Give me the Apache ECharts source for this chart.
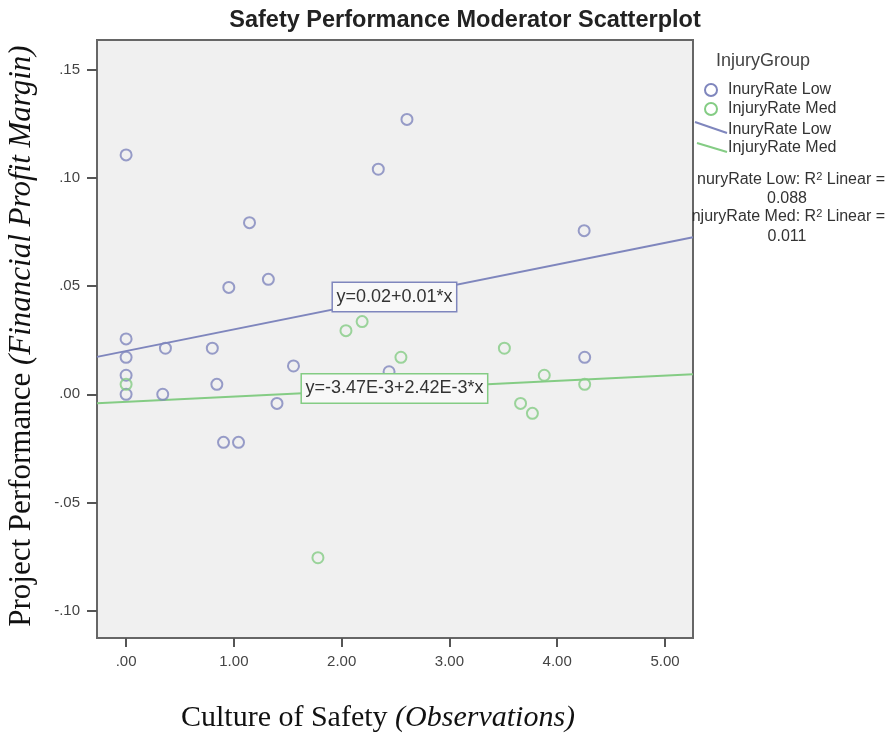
<!DOCTYPE html>
<html>
<head>
<meta charset="utf-8">
<script src="https://cdn.jsdelivr.net/npm/echarts@6/dist/echarts.min.js"></script>
<style>
html,body{margin:0;padding:0;background:#fff;}
#chart{width:890px;height:734px;}
</style>
</head>
<body>
<div id="chart"></div>
<script>
// ---- data ----
const xTicks = [0, 1, 2, 3, 4, 5];
const xTickLabels = ['.00', '1.00', '2.00', '3.00', '4.00', '5.00'];
const yTicks = [-0.10, -0.05, 0.00, 0.05, 0.10, 0.15];
const yTickLabels = ['-.10', '-.05', '.00', '.05', '.10', '.15'];

const lowX = [0, 2.34, 1.145, 0.953, 1.32, 0, 2.606, 4.25, 0.365, 0.80, 0, 1.553, 0, 0.842, 0, 0.34, 1.40, 0.904, 1.043, 4.255, 2.44];
const lowY = [0.1106, 0.104, 0.0793, 0.0494, 0.0531, 0.0256, 0.127, 0.0756, 0.0213, 0.0213, 0.0171, 0.0131, 0.0088, 0.0046, 0.0, 0.0, -0.0042, -0.0222, -0.0222, 0.0171, 0.0104];

const medX = [2.04, 2.19, 0, 1.78, 2.55, 3.51, 3.88, 4.255, 3.66, 3.77];
const medY = [0.0294, 0.0336, 0.0046, -0.0755, 0.0171, 0.0213, 0.0088, 0.0046, -0.0042, -0.0088];

// fit line coefficients shown in the chart
const lowFit = [0.02, 0.01];
const medFit = [-0.00347, 0.00242];
const lowEq = 'y=0.02+0.01*x';
const medEq = 'y=-3.47E-3+2.42E-3*x';
const lowEqPos = [2.49, 0.045];
const medEqPos = [2.49, 0.0027];

const seriesNames = ['InuryRate Low', 'InjuryRate Med'];
const r2Values = ['0.088', '0.011'];

// axis range
const xMin = -0.27, xMax = 5.26;
const yMin = -0.1126, yMax = 0.1637;

const blue = '#7f86bd';
const green = '#84cc84';

const zip = (xs, ys) => xs.map((x, i) => [x, ys[i]]);
const fitLine = (c) => [[xMin, c[0] + c[1] * xMin], [xMax, c[0] + c[1] * xMax]];

const chart = echarts.init(document.getElementById('chart'));

const eqMark = (text, pos, color, w) => ({
  silent: true,
  z: 10,
  data: [{
    coord: pos,
    symbol: 'circle',
    symbolSize: 1,
    itemStyle: { color: 'rgba(0,0,0,0)' },
    label: {
      show: true, position: 'inside', formatter: text,
      color: '#333', fontFamily: 'Liberation Sans', fontSize: 18,
      width: w - 12, height: 20, lineHeight: 20, align: 'center', verticalAlign: 'middle',
      padding: [4, 6],
      backgroundColor: '#f8f8f8', borderColor: color, borderWidth: 1.5
    }
  }]
});

const option = {
  backgroundColor: '#ffffff',
  animation: false,
  grid: {
    left: 97, right: 197, top: 40, bottom: 96,
    show: true, backgroundColor: '#f0f0f0', borderColor: '#666', borderWidth: 2
  },
  xAxis: {
    type: 'value', min: xMin, max: xMax,
    splitLine: { show: false },
    axisLine: { show: true, onZero: false, lineStyle: { color: '#666', width: 2 } },
    axisTick: { show: true, inside: false, customValues: xTicks, length: 9, lineStyle: { color: '#555', width: 2 } },
    axisLabel: {
      customValues: xTicks, margin: 16,
      formatter: (v) => xTickLabels[xTicks.indexOf(Math.round(v))],
      color: '#444', fontFamily: 'Liberation Sans', fontSize: 15
    }
  },
  yAxis: {
    type: 'value', min: yMin, max: yMax,
    splitLine: { show: false },
    axisLine: { show: true, onZero: false, lineStyle: { color: '#666', width: 2 } },
    axisTick: { show: true, inside: false, customValues: yTicks, length: 10, lineStyle: { color: '#555', width: 2 } },
    axisLabel: {
      customValues: yTicks, margin: 17,
      formatter: (v) => {
        let best = 0;
        yTicks.forEach((t, i) => { if (Math.abs(t - v) < Math.abs(yTicks[best] - v)) best = i; });
        return yTickLabels[best];
      },
      color: '#444', fontFamily: 'Liberation Sans', fontSize: 15
    }
  },
  series: [
    {
      name: seriesNames[0] + ' fit', type: 'line', data: fitLine(lowFit),
      showSymbol: false, symbol: 'none', lineStyle: { color: blue, width: 2 }, z: 3,
      markPoint: eqMark(lowEq, lowEqPos, blue, 123)
    },
    {
      name: seriesNames[1] + ' fit', type: 'line', data: fitLine(medFit),
      showSymbol: false, symbol: 'none', lineStyle: { color: green, width: 2 }, z: 3,
      markPoint: eqMark(medEq, medEqPos, green, 185)
    },
    {
      name: seriesNames[0], type: 'scatter', data: zip(lowX, lowY),
      symbol: 'circle', symbolSize: 11, z: 4,
      itemStyle: { color: 'rgba(0,0,0,0)', borderColor: blue, borderWidth: 2 }
    },
    {
      name: seriesNames[1], type: 'scatter', data: zip(medX, medY),
      symbol: 'circle', symbolSize: 11, z: 4,
      itemStyle: { color: 'rgba(0,0,0,0)', borderColor: green, borderWidth: 2 }
    }
  ],
  graphic: [
    { type: 'text', x: 465, y: 21, style: { text: 'Safety Performance Moderator Scatterplot', fill: '#222', font: 'bold 23.5px "Liberation Sans"', textAlign: 'center', textVerticalAlign: 'middle' } },
    // legend
    { type: 'text', x: 716, y: 61, style: { text: 'InjuryGroup', fill: '#444', font: '18px "Liberation Sans"', textAlign: 'left', textVerticalAlign: 'middle' } },
    { type: 'circle', shape: { cx: 711, cy: 90, r: 6 }, style: { fill: 'none', stroke: blue, lineWidth: 2 } },
    { type: 'text', x: 728, y: 90, style: { text: seriesNames[0], fill: '#333', font: '16px "Liberation Sans"', textVerticalAlign: 'middle' } },
    { type: 'circle', shape: { cx: 711, cy: 109, r: 6 }, style: { fill: 'none', stroke: green, lineWidth: 2 } },
    { type: 'text', x: 728, y: 109, style: { text: seriesNames[1], fill: '#333', font: '16px "Liberation Sans"', textVerticalAlign: 'middle' } },
    { type: 'line', shape: { x1: 695, y1: 122, x2: 727, y2: 133 }, style: { stroke: blue, lineWidth: 2 } },
    { type: 'text', x: 728, y: 130, style: { text: seriesNames[0], fill: '#333', font: '16px "Liberation Sans"', textVerticalAlign: 'middle' } },
    { type: 'line', shape: { x1: 697, y1: 143, x2: 727, y2: 152 }, style: { stroke: green, lineWidth: 2 } },
    { type: 'text', x: 728, y: 148, style: { text: seriesNames[1], fill: '#333', font: '16px "Liberation Sans"', textVerticalAlign: 'middle' } },
    { type: 'text', x: 885, y: 180, style: {
      text: '{a|nuryRate Low: R}{s|2}{a| Linear =}', textAlign: 'right', textVerticalAlign: 'middle',
      rich: { a: { fill: '#333', font: '16px "Liberation Sans"' }, s: { fill: '#333', font: '11px "Liberation Sans"', verticalAlign: 'top', padding: [0, 0, 6, 0] } }
    } },
    { type: 'text', x: 787, y: 199, style: { text: r2Values[0], fill: '#333', font: '16px "Liberation Sans"', textAlign: 'center', textVerticalAlign: 'middle' } },
    { type: 'text', x: 885, y: 217, style: {
      text: '{a|njuryRate Med: R}{s|2}{a| Linear =}', textAlign: 'right', textVerticalAlign: 'middle',
      rich: { a: { fill: '#333', font: '16px "Liberation Sans"' }, s: { fill: '#333', font: '11px "Liberation Sans"', verticalAlign: 'top', padding: [0, 0, 6, 0] } }
    } },
    { type: 'text', x: 787, y: 237, style: { text: r2Values[1], fill: '#333', font: '16px "Liberation Sans"', textAlign: 'center', textVerticalAlign: 'middle' } },
    // axis titles
    { type: 'text', x: 378, y: 718, style: {
      text: '{n|Culture of Safety }{i|(Observations)}', textAlign: 'center', textVerticalAlign: 'middle',
      rich: { n: { fill: '#111', font: '30px "Liberation Serif"' }, i: { fill: '#111', font: 'italic 30px "Liberation Serif"' } }
    } },
    { type: 'text', x: 22, y: 336, rotation: Math.PI / 2, style: {
      text: '{n|Project Performance }{i|(Financial Profit Margin)}', textAlign: 'center', textVerticalAlign: 'middle',
      rich: { n: { fill: '#111', font: '31px "Liberation Serif"' }, i: { fill: '#111', font: 'italic 31px "Liberation Serif"' } }
    } }
  ]
};
chart.setOption(option);
</script>
</body>
</html>
